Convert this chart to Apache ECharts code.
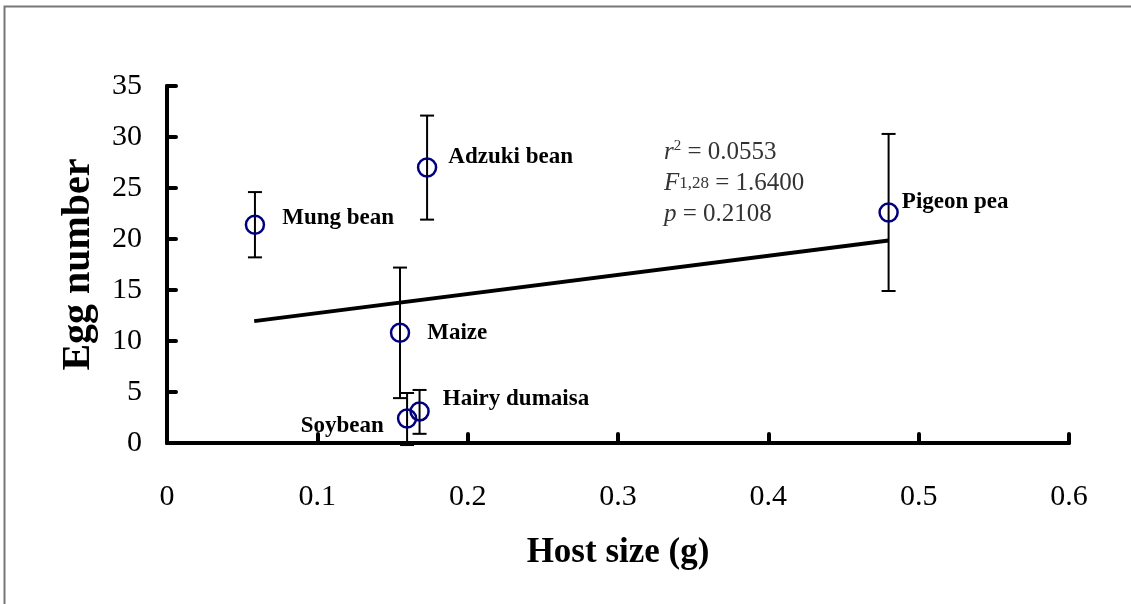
<!DOCTYPE html>
<html><head><meta charset="utf-8">
<script src="https://cdn.jsdelivr.net/npm/echarts@6/dist/echarts.min.js"></script>
<style>html,body{margin:0;padding:0;background:#fff}#c{width:1131px;height:604px}</style>
</head><body><div id="c"></div>
<script>
const hosts = ['Mung bean','Adzuki bean','Maize','Soybean','Hairy dumaisa','Pigeon pea'];
const hostSize = [0.0585, 0.173, 0.155, 0.1597, 0.168, 0.480];
const eggMean = [21.4, 27.0, 10.8, 2.4, 3.1, 22.6];
const eggLow = [18.2, 21.9, 4.4, -0.2, 0.9, 14.9];
const eggHigh = [24.6, 32.1, 17.2, 4.9, 5.2, 30.3];
const fitX = [0.058, 0.48];
const fitY = [11.95, 19.85];
const xTicks = [0, 0.1, 0.2, 0.3, 0.4, 0.5, 0.6];
const yTicks = [0, 5, 10, 15, 20, 25, 30, 35];

const labelPos = {
  'Mung bean': {position:'right', distance:17, offset:[0,-7]},
  'Adzuki bean': {position:'right', distance:11, offset:[0,-11]},
  'Maize': {position:'right', distance:17, offset:[0,0]},
  'Soybean': {position:'left', distance:13, offset:[0,8]},
  'Hairy dumaisa': {position:'right', distance:13, offset:[0,-12]},
  'Pigeon pea': {position:'right', distance:3, offset:[0,-10]}
};
const serif = '"Liberation Serif","Times New Roman",serif';
const chart = echarts.init(document.getElementById('c'));
chart.setOption({
  animation:false,
  backgroundColor:'#fff',
  grid:{left:167, right:62, top:86, bottom:161},
  xAxis:{type:'value', min:0, max:0.6, interval:0.1,
    name:'Host size (g)', nameLocation:'middle', nameGap:92,
    nameTextStyle:{fontFamily:serif, fontWeight:'bold', fontSize:35, color:'#000'},
    axisLine:{lineStyle:{color:'#000', width:4}},
    axisTick:{inside:true, length:9, lineStyle:{color:'#000', width:4, cap:'round'}},
    axisLabel:{margin:39, fontFamily:serif, fontSize:30, color:'#000',
      formatter: v => xTicks.includes(+v.toFixed(1)) ? String(+v.toFixed(1)) : ''},
    splitLine:{show:false}},
  yAxis:{type:'value', min:0, max:35, interval:5,
    name:'Egg number', nameLocation:'middle', nameGap:68, nameRotate:90,
    nameTextStyle:{fontFamily:serif, fontWeight:'bold', fontSize:40, color:'#000'},
    axisLine:{show:true, lineStyle:{color:'#000', width:4}},
    axisTick:{show:true, inside:true, length:9, lineStyle:{color:'#000', width:4, cap:'round'}},
    axisLabel:{margin:25, fontFamily:serif, fontSize:30, color:'#000',
      formatter: v => yTicks.includes(v) ? String(v) : ''},
    splitLine:{show:false}},
  series:[
    {type:'line', data:fitX.map((x,i)=>[x, fitY[i]]), symbol:'none',
     lineStyle:{color:'#000', width:4}, z:2},
    {type:'custom', z:3,
     data: hosts.map((h,i)=>[hostSize[i], eggLow[i], eggHigh[i]]),
     renderItem:(params, api)=>{
       const lo = api.coord([api.value(0), api.value(1)]);
       const hi = api.coord([api.value(0), api.value(2)]);
       const w = 7;
       const st = {stroke:'#000', lineWidth:2};
       return {type:'group', children:[
         {type:'line', shape:{x1:lo[0], y1:lo[1], x2:hi[0], y2:hi[1]}, style:st},
         {type:'line', shape:{x1:lo[0]-w, y1:lo[1], x2:lo[0]+w, y2:lo[1]}, style:st},
         {type:'line', shape:{x1:hi[0]-w, y1:hi[1], x2:hi[0]+w, y2:hi[1]}, style:st}
       ]};
     }},
    {type:'scatter', z:4, symbol:'circle', symbolSize:18,
     itemStyle:{color:'rgba(255,255,255,0)', borderColor:'#00007f', borderWidth:2.5, opacity:1},
     data: hosts.map((h,i)=>({name:h, value:[hostSize[i], eggMean[i]],
       label:Object.assign({show:true, formatter:h, fontFamily:serif, fontWeight:'bold', fontSize:23, color:'#000', opacity:1}, labelPos[h])}))}
  ],
  graphic:[
    {type:'rect', shape:{x:4.5, y:6.5, width:1200, height:700}, style:{fill:'none', stroke:'#777', lineWidth:2}, silent:true},
    {type:'text', left:664, top:139, style:{
      text:'{i|r}{s|2} = 0.0553', fontFamily:serif, fontSize:25, fill:'#333',
      rich:{i:{fontStyle:'italic', fontFamily:serif, fontSize:25, fill:'#333'}, s:{fontSize:15, fontFamily:serif, fill:'#333', verticalAlign:'top', padding:[0,0,12,0]}}}},
    {type:'text', left:664, top:171, style:{
      text:'{i|F}{sub|1,28} = 1.6400', fontFamily:serif, fontSize:25, fill:'#333',
      rich:{i:{fontStyle:'italic', fontFamily:serif, fontSize:25, fill:'#333'}, sub:{fontSize:17, fontFamily:serif, fill:'#333'}}}},
    {type:'text', left:664, top:202, style:{
      text:'{i|p} = 0.2108', fontFamily:serif, fontSize:25, fill:'#333',
      rich:{i:{fontStyle:'italic', fontFamily:serif, fontSize:25, fill:'#333'}}}}
  ]
});
</script></body></html>
